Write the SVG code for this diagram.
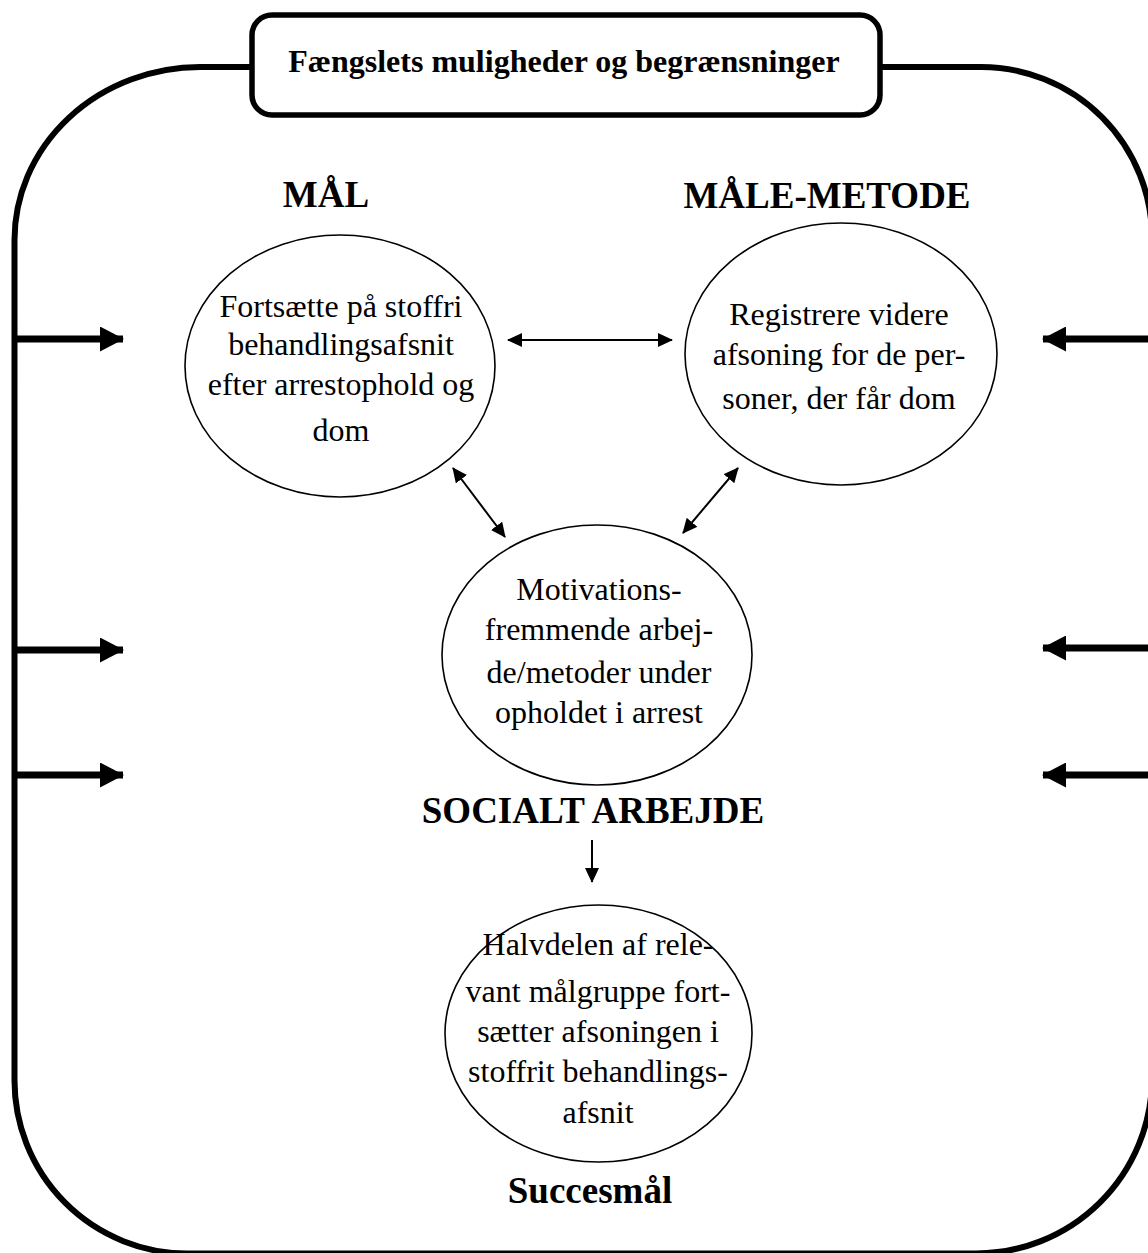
<svg xmlns="http://www.w3.org/2000/svg" width="1148" height="1253" viewBox="0 0 1148 1253">
  <style>
    .frame { fill: none; stroke: #000; stroke-width: 6; }
    .hdr { fill: #fff; stroke: #000; stroke-width: 5.5; }
    .node { fill: #fff; stroke: #000; stroke-width: 1.6; }
    .txt { font-family: "Liberation Serif", "Times New Roman", serif; font-size: 32px; fill: #000; text-anchor: middle; }
    .title { font-family: "Liberation Serif", "Times New Roman", serif; font-weight: bold; fill: #000; text-anchor: middle; }
    .thin { stroke: #000; stroke-width: 2; fill: none; }
    .thick { stroke: #000; stroke-width: 7; fill: none; }
  </style>
  <defs>
    <marker id="ah" viewBox="0 0 15 14" refX="14" refY="7" markerWidth="15" markerHeight="14" markerUnits="userSpaceOnUse" orient="auto-start-reverse">
      <path d="M0,0 L15,7 L0,14 Z" fill="#000"/>
    </marker>
    <marker id="bigah" viewBox="0 0 24 25" refX="23" refY="12.5" markerWidth="24" markerHeight="25" markerUnits="userSpaceOnUse" orient="auto-start-reverse">
      <path d="M0,0 L24,12.5 L0,25 Z" fill="#000"/>
    </marker>
  </defs>

  <!-- outer frame: the prison's possibilities and limits -->
  <g id="frame">
    <path class="frame" d="M14.5,240 A186,173 0 0 1 200,67 H981 A171,171 0 0 1 1152,238 V1080 A176,176 0 0 1 976,1253.5 H187 A173,173 0 0 1 14.5,1080 Z"/>
  </g>

  <g id="header">
    <rect class="hdr" x="252" y="15" width="628" height="100" rx="20" ry="20"/>
    <text class="title" x="564" y="72" font-size="32">Fængslets muligheder og begrænsninger</text>
  </g>

  <g id="labels">
    <text class="title" x="326" y="207" font-size="37">MÅL</text>
    <text class="title" x="827" y="208" font-size="37">MÅLE-METODE</text>
    <text class="title" x="593" y="823" font-size="37">SOCIALT ARBEJDE</text>
    <text class="title" x="590" y="1203" font-size="37">Succesmål</text>
  </g>

  <g id="connectors">
    <!-- pressure arrows from the frame, left side -->
    <line class="thick" x1="14" y1="339" x2="123" y2="339" marker-end="url(#bigah)"/>
    <line class="thick" x1="14" y1="650" x2="123" y2="650" marker-end="url(#bigah)"/>
    <line class="thick" x1="14" y1="775" x2="123" y2="775" marker-end="url(#bigah)"/>
    <!-- pressure arrows from the frame, right side -->
    <line class="thick" x1="1152" y1="339" x2="1043" y2="339" marker-end="url(#bigah)"/>
    <line class="thick" x1="1152" y1="648" x2="1043" y2="648" marker-end="url(#bigah)"/>
    <line class="thick" x1="1152" y1="775" x2="1043" y2="775" marker-end="url(#bigah)"/>
    <!-- links between the circles -->
    <line class="thin" x1="508" y1="340" x2="672" y2="340" marker-start="url(#ah)" marker-end="url(#ah)"/>
    <line class="thin" x1="453" y1="468" x2="505" y2="537" marker-start="url(#ah)" marker-end="url(#ah)"/>
    <line class="thin" x1="738" y1="468" x2="683" y2="533" marker-start="url(#ah)" marker-end="url(#ah)"/>
    <line class="thin" x1="592" y1="840" x2="592" y2="882" marker-end="url(#ah)"/>
  </g>

  <g id="maal">
    <ellipse class="node" cx="340" cy="366" rx="155" ry="131"/>
    <text class="txt" x="341" y="317">Fortsætte på stoffri</text>
    <text class="txt" x="341" y="355">behandlingsafsnit</text>
    <text class="txt" x="341" y="395">efter arrestophold og</text>
    <text class="txt" x="341" y="441">dom</text>
  </g>

  <g id="maalemetode">
    <ellipse class="node" cx="841" cy="354" rx="156" ry="131"/>
    <text class="txt" x="839" y="325">Registrere videre</text>
    <text class="txt" x="839" y="365">afsoning for de per-</text>
    <text class="txt" x="839" y="409">soner, der får dom</text>
  </g>

  <g id="socialt">
    <ellipse class="node" cx="597" cy="655" rx="155" ry="130"/>
    <text class="txt" x="599" y="600">Motivations-</text>
    <text class="txt" x="599" y="640">fremmende arbej-</text>
    <text class="txt" x="599" y="683">de/metoder under</text>
    <text class="txt" x="599" y="723">opholdet i arrest</text>
  </g>

  <g id="succes">
    <ellipse class="node" cx="598.5" cy="1033.5" rx="153.5" ry="128.5"/>
    <text class="txt" x="598" y="955">Halvdelen af rele-</text>
    <text class="txt" x="598" y="1002">vant målgruppe fort-</text>
    <text class="txt" x="598" y="1042">sætter afsoningen i</text>
    <text class="txt" x="598" y="1082">stoffrit behandlings-</text>
    <text class="txt" x="598" y="1123">afsnit</text>
  </g>
</svg>
